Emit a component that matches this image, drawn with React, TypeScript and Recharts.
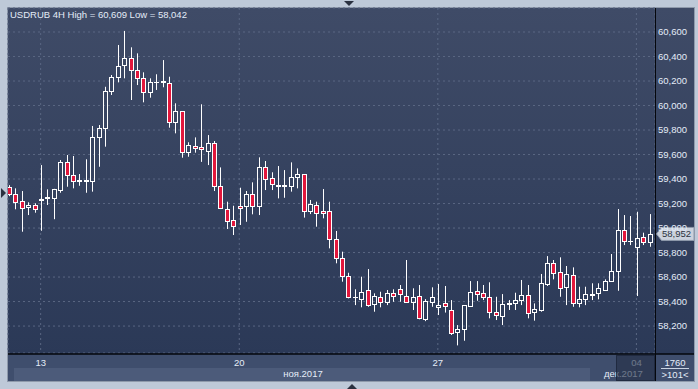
import React from 'react';
import { ComposedChart, Bar, XAxis, YAxis, CartesianGrid, ReferenceDot } from 'recharts';

// USDRUB 4H candles, 10 Nov .. 4 Dec 2017
const opens = [
  59333, 59278, 59220, 59169, 59188, 59232, 59244, 59247, 59310, 59536,
  59430, 59382, 59388, 59386, 59740, 59814, 60118, 60230, 60330, 60385,
  60290, 60222, 60108, 60190, 60188, 60181, 59863, 59955, 59620, 59672,
  59664, 59629, 59691, 59346, 59155, 59065, 59180, 59180, 59275, 59182,
  59501, 59406, 59344, 59344, 59346, 59414, 59438, 59141, 59188, 59141,
  59139, 58908, 58753, 58608, 58437, 58423, 58494, 58377, 58439, 58393,
  58472, 58500, 58445, 58398, 58445, 58255, 58398, 58355, 58390, 58331,
  58148, 58173, 58363, 58486, 58467, 58437, 58312, 58282, 58383, 58385,
  58412, 58453, 58317, 58331, 58540, 58717, 58643, 58521, 58616, 58385,
  58418, 58457, 58472, 58494, 58570, 58649, 58984, 58892, 58842, 58924,
  58883,
];
const highs = [
  59350, 59324, 59302, 59210, 59202, 59514, 59316, 59320, 59555, 59596,
  59588, 59441, 59561, 59833, 59841, 60153, 60249, 60494, 60609, 60475,
  60426, 60271, 60222, 60255, 60371, 60235, 60018, 59955, 59700, 59740,
  60010, 59759, 59710, 59495, 59215, 59182, 59329, 59302, 59373, 59577,
  59547, 59455, 59506, 59473, 59536, 59487, 59438, 59229, 59215, 59318,
  59215, 58976, 58807, 58635, 58500, 58603, 58665, 58467, 58480, 58494,
  58500, 58535, 58739, 58508, 58535, 58420, 58516, 58543, 58527, 58412,
  58208, 58371, 58567, 58567, 58535, 58557, 58439, 58461, 58412, 58472,
  58576, 58535, 58385, 58625, 58771, 58739, 58761, 58690, 58679, 58521,
  58521, 58549, 58549, 58581, 58788, 59155, 59106, 59098, 59133, 58962,
  59114,
];
const lows = [
  59260, 59153, 58970, 59106, 59125, 58978, 59188, 59072, 59288, 59337,
  59324, 59345, 59288, 59297, 59500, 59664, 60086, 60189, 60222, 60045,
  60167, 60026, 60064, 60127, 60149, 59819, 59773, 59574, 59582, 59615,
  59540, 59514, 59302, 59155, 58992, 58943, 59025, 59051, 59112, 59106,
  59310, 59310, 59242, 59247, 59297, 59324, 59085, 59114, 59011, 59079,
  58834, 58712, 58562, 58426, 58371, 58353, 58357, 58317, 58353, 58371,
  58398, 58398, 58390, 58331, 58255, 58240, 58357, 58290, 58310, 58127,
  58042, 58080, 58357, 58406, 58412, 58263, 58249, 58208, 58331, 58331,
  58371, 58263, 58244, 58317, 58527, 58581, 58439, 58371, 58357, 58353,
  58371, 58412, 58418, 58486, 58562, 58488, 58861, 58861, 58445, 58861,
  58847,
];
const closes = [
  59278, 59215, 59166, 59188, 59153, 59240, 59250, 59316, 59536, 59430,
  59381, 59390, 59396, 59740, 59816, 60118, 60230, 60325, 60385, 60290,
  60222, 60108, 60194, 60196, 60198, 59863, 59955, 59618, 59678, 59651,
  59645, 59691, 59346, 59161, 59057, 59019, 59161, 59275, 59182, 59501,
  59398, 59357, 59348, 59348, 59414, 59441, 59141, 59193, 59125, 59125,
  58908, 58753, 58608, 58434, 58441, 58475, 58371, 58445, 58393, 58472,
  58447, 58459, 58398, 58439, 58263, 58406, 58439, 58370, 58366, 58145,
  58176, 58371, 58480, 58464, 58434, 58312, 58287, 58380, 58387, 58412,
  58453, 58310, 58339, 58549, 58717, 58630, 58508, 58624, 58385, 58418,
  58459, 58461, 58508, 58570, 58649, 58984, 58894, 58896, 58916, 58883,
  58952,
];

const dayTicks = [5, 36, 67, 98];
const dayLabels = ['13', '20', '27', '04'];
const priceTicks = [58200, 58400, 58600, 58800, 59000, 59200, 59400, 59600, 59800, 60000, 60200, 60400, 60600];
const monthLabels = ['ноя.2017', 'дек.2017'];

const data = opens.map((open, k) => ({
  k,
  open,
  high: highs[k],
  low: lows[k],
  close: closes[k],
}));

const last = data[data.length - 1];
const FONT = '"Liberation Sans", Arial, sans-serif';
const TXT = '#e4ecf8';

const fmt = (v: number) => `${Math.floor(v / 1000)},${String(Math.round(v) % 1000).padStart(3, '0')}`;

function Candle(props: any) {
  const { x, y, width, height, payload } = props;
  if (!payload || x == null || y == null) return null;
  const { open, close, high, low } = payload;
  const top = Math.min(y, y + height);
  const h = Math.abs(height);
  const span = high - low || 1;
  const py = (v: number) => top + ((high - v) / span) * h;
  const cx = Math.round(x + width / 2) + 0.5;
  const bTop = Math.round(py(Math.max(open, close))) + 0.5;
  const bBot = Math.round(py(Math.min(open, close))) + 0.5;
  const up = close >= open;

  if (bBot - bTop < 1) {
    return (
      <g>
        <line x1={cx} x2={cx} y1={py(high)} y2={py(low)} stroke="#fff" />
        <line x1={cx - 2.5} x2={cx + 2.5} y1={bTop} y2={bTop} stroke="#fff" />
      </g>
    );
  }
  return (
    <g>
      <line x1={cx} x2={cx} y1={py(high)} y2={bTop} stroke="#fff" />
      <line x1={cx} x2={cx} y1={bBot} y2={py(low)} stroke="#fff" />
      <rect x={cx - 2} y={bTop} width={4} height={bBot - bTop} fill={up ? 'none' : '#e2173c'} stroke="#fff" />
    </g>
  );
}

function DayTick(props: any) {
  const { x, payload } = props;
  const label = dayLabels[dayTicks.indexOf(payload.value)];
  return (
    <text x={x} y={366} textAnchor="middle" fill={TXT} fontSize={9.5} fontFamily={FONT}>
      {label}
    </text>
  );
}

function PriceMarker(props: any) {
  const cy = props.cy;
  if (cy == null) return null;
  return (
    <g>
      <path
        d={`M656.5,${cy} L661.5,${cy - 6.5} L694,${cy - 6.5} L694,${cy + 6.5} L661.5,${cy + 6.5} Z`}
        fill="#cbd2dd"
        stroke="#8e99ab"
      />
      <text x={662} y={cy} dy="0.355em" fill="#2c3340" fontSize={9.5} fontFamily={FONT}>
        {fmt(last.close)}
      </text>
    </g>
  );
}

export default function App() {
  return (
    <div style={{ position: 'relative', width: 698, height: 389, fontFamily: FONT }}>
      <style>{'body{margin:0}'}</style>
      <svg width={698} height={389} style={{ position: 'absolute', left: 0, top: 0 }}>
        <defs>
          <linearGradient id="plotBg" x1="0" y1="0" x2="0" y2="1">
            <stop offset="0%" stopColor="#3f4b67" />
            <stop offset="100%" stopColor="#2b3957" />
          </linearGradient>
        </defs>
        <rect x={0} y={0} width={698} height={389} fill="#bec9d8" />
        <rect x={7.5} y={7.5} width={687} height={374} fill="none" stroke="#8f9aab" />
        <rect x={8} y={8} width={686} height={346} fill="url(#plotBg)" />
        <rect x={8} y={354} width={686} height={27} fill="#3f4e6d" />
        <rect x={14} y={368} width={576} height={13} fill="#4c5b7a" />
        <polygon points="344,1 354,1 349,6" fill="#2a3140" />
        <polygon points="347,389 357,389 352,384" fill="#2a3140" />
        <polygon points="1,188 6,193 1,198" fill="#2a3140" />
        <text x={10} y={18} fill={TXT} fontSize={9.5} fontFamily={FONT}>
          USDRUB 4H High = {fmt(Math.max(...highs))} Low = {fmt(Math.min(...lows))}
        </text>
      </svg>
      <div style={{ position: 'absolute', left: 0, top: 0 }}>
        <ComposedChart width={698} height={389} data={data} margin={{ top: 8, right: 4, bottom: 8, left: 8 }}>
          <CartesianGrid stroke="#5a6783" strokeDasharray="2 3" />
          <XAxis
            dataKey="k"
            type="number"
            domain={[-0.1, 100.9]}
            allowDataOverflow
            ticks={dayTicks}
            interval={0}
            height={28}
            axisLine={false}
            tickLine={false}
            tick={(p: any) => <DayTick {...p} />}
          />
          <YAxis
            orientation="right"
            width={39}
            domain={[57980, 60796]}
            allowDataOverflow
            ticks={priceTicks}
            interval={0}
            axisLine={false}
            tickLine={false}
            tickSize={0}
            tickMargin={3}
            tickFormatter={fmt}
            tick={{ fill: TXT, fontSize: 9.5, fontFamily: FONT }}
          />
          <Bar
            dataKey={(d: any) => [d.low, d.high]}
            barSize={5}
            isAnimationActive={false}
            shape={(p: any) => <Candle {...p} />}
          />
          <ReferenceDot
            x={last.k}
            y={last.close}
            r={0}
            ifOverflow="visible"
            shape={(p: any) => <PriceMarker {...p} />}
          />
        </ComposedChart>
      </div>
      <svg width={698} height={389} style={{ position: 'absolute', left: 0, top: 0, pointerEvents: 'none' }}>
        <line x1={8} x2={694} y1={354} y2={354} stroke="#05070c" strokeWidth={1.5} />
        <line x1={655.5} x2={655.5} y1={8} y2={381} stroke="#05070c" />
        <text x={303} y={377} textAnchor="middle" fill={TXT} fontSize={9.5} fontFamily={FONT}>
          {monthLabels[0]}
        </text>
        <text x={604} y={377} fill={TXT} fontSize={9.5} fontFamily={FONT}>
          {monthLabels[1]}
        </text>
        <rect x={616.5} y={355.5} width={38} height={25} fill="rgba(36,46,70,0.62)" stroke="rgba(28,36,56,0.8)" />
        <text x={675} y={366} textAnchor="middle" fill={TXT} fontSize={9.5} fontFamily={FONT}>
          1760
        </text>
        <line x1={661} x2={689} y1={368.5} y2={368.5} stroke="#c9d3e2" />
        <text x={675} y={378} textAnchor="middle" fill={TXT} fontSize={9.5} fontFamily={FONT}>
          {'>101<'}
        </text>
      </svg>
    </div>
  );
}
